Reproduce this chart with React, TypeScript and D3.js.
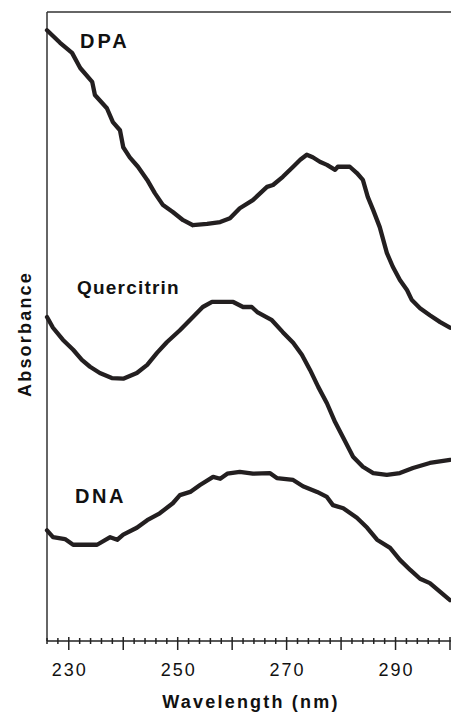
import React from 'react';
import * as d3 from 'd3';

// spectra (wavelength nm, absorbance in arbitrary units, offset per trace)
const dpaWave = [226, 228.4, 230.6, 232.1, 234.3, 234.8, 237, 238.1, 239.4, 240, 241.2, 242.7, 244.4, 245.8, 247.3, 249.1, 251, 252.8, 255.4, 257.8, 259.6, 261.4, 263.8, 266.4, 267.5, 269.3, 271.2, 272.5, 273.7, 274.8, 276.1, 277.4, 278.9, 279.4, 281.6, 282.9, 284, 284.9, 285.9, 287.1, 288.4, 289.5, 290.8, 292.1, 293, 294.5, 296.3, 298.2, 300];
const dpaAbs = [97.1, 95.1, 93.5, 91.1, 88.9, 86.8, 84.7, 82.5, 81.2, 78.5, 76.9, 75.4, 73.3, 71.2, 69.3, 68.2, 66.9, 66.1, 66.3, 66.6, 67.2, 68.8, 70.1, 72.2, 72.5, 73.8, 75.4, 76.5, 77.3, 76.9, 76.2, 75.7, 74.9, 75.4, 75.4, 74.4, 73.3, 70.6, 68.5, 65.8, 61.7, 59.5, 57.4, 55.8, 54.2, 52.9, 51.8, 50.7, 49.8];

const quercitrinWave = [226, 227.1, 228.9, 230.8, 232.4, 233.9, 235.7, 237.9, 240, 242.5, 244.4, 246.2, 248, 250.4, 252.8, 254.6, 256.3, 260.2, 262, 263.6, 264.6, 267.3, 269.3, 271.2, 272.8, 274.3, 275.8, 277.4, 278.9, 280.4, 282.2, 284, 285.9, 288.4, 290.8, 293.2, 296.3, 300];
const quercitrinAbs = [51.5, 49.8, 47.9, 46.3, 44.7, 43.6, 42.6, 41.8, 41.7, 42.6, 43.9, 45.8, 47.5, 49.4, 51.5, 53.1, 53.9, 53.9, 53.1, 53.1, 52.3, 51, 49.1, 47.4, 45.5, 43.1, 40.4, 37.8, 34.8, 32.3, 29.3, 27.7, 26.7, 26.4, 26.7, 27.5, 28.3, 28.8];

const dnaWave = [226, 227.1, 229.3, 230.8, 235.2, 237.6, 238.9, 240, 242.5, 244.4, 246.7, 249.1, 250.4, 252.3, 254.1, 256.5, 257.8, 259.1, 261.4, 263.8, 266.9, 268.2, 271.2, 273, 275.6, 277.4, 278.5, 280.4, 282.9, 284.8, 286.6, 289, 290.8, 292.7, 294.5, 296.3, 298.2, 300];
const dnaAbs = [17.6, 16.5, 16.2, 15.3, 15.3, 16.5, 16.1, 16.9, 18, 19.2, 20.3, 21.9, 23.2, 23.7, 24.8, 26.1, 25.8, 26.6, 26.9, 26.6, 26.7, 25.9, 25.6, 24.6, 23.7, 22.9, 21.6, 21.1, 19.6, 18, 16.1, 14.8, 12.9, 11.3, 9.9, 9.2, 7.8, 6.5];

const tickLabels = [230, 250, 270, 290];

const W = 451;
const H = 712;
const left = 47;
const top = 12;
const bottom = 641;
const ink = '#231f20';
const font = '"Liberation Sans", Arial, Helvetica, sans-serif';

export default function App() {
  const x = d3.scaleLinear().domain([226, 300]).range([left, 450]);
  const y = d3.scaleLinear().domain([0, 100]).range([bottom, top]);

  const line = d3.line<[number, number]>()
    .x(d => x(d[0]))
    .y(d => y(d[1]));

  const series = [
    { name: 'DPA', wave: dpaWave, abs: dpaAbs },
    { name: 'Quercitrin', wave: quercitrinWave, abs: quercitrinAbs },
    { name: 'DNA', wave: dnaWave, abs: dnaAbs },
  ];

  const minor = d3.range(226, 301, 2).filter(v => v % 10 !== 0);
  const major = d3.range(230, 301, 10);

  return (
    <div style={{ position: 'absolute', left: 0, top: 0 }}>
      <svg width={W} height={H} style={{ display: 'block', background: '#fff' }}>
        {/* frame: left axis and top rule */}
        <line x1={left} x2={left} y1={top} y2={bottom} stroke="#333" strokeWidth={1.5} />
        <line x1={left} x2={W} y1={top} y2={top} stroke="#333" strokeWidth={1.5} />
        <line x1={left} x2={W} y1={bottom} y2={bottom} stroke="#222" strokeWidth={1.5} />

        {minor.map(v => (
          <line key={'m' + v} x1={x(v)} x2={x(v)} y1={bottom - 3} y2={bottom + 3} stroke="#222" strokeWidth={1.5} />
        ))}
        {major.map(v => (
          <line key={'M' + v} x1={x(v)} x2={x(v)} y1={bottom - 4} y2={bottom + 9} stroke="#222" strokeWidth={1.5} />
        ))}
        {tickLabels.map(v => (
          <text key={'t' + v} x={x(v) + 1} y={676} textAnchor="middle" fontFamily={font} fontSize={18}
            letterSpacing={2} fill="#111">{v}</text>
        ))}

        <text x={251} y={708} textAnchor="middle" fontFamily={font} fontSize={18} fontWeight="bold"
          letterSpacing={2.2} fill="#111">Wavelength (nm)</text>
        <text transform="translate(31,334) rotate(-90)" textAnchor="middle" fontFamily={font} fontSize={18}
          fontWeight="bold" letterSpacing={2.2} fill="#111">Absorbance</text>

        {series.map(s => (
          <path key={s.name} d={line(s.wave.map((w, i) => [w, s.abs[i]] as [number, number])) || ''}
            fill="none" stroke={ink} strokeWidth={4.3} strokeLinejoin="round" strokeLinecap="round" />
        ))}

        <text x={80} y={48} fontFamily={font} fontSize={20} fontWeight="bold" letterSpacing={3} fill="#111">DPA</text>
        <text x={77} y={294} fontFamily={font} fontSize={19} fontWeight="bold" letterSpacing={1.2} fill="#111">Quercitrin</text>
        <text x={75} y={503} fontFamily={font} fontSize={20} fontWeight="bold" letterSpacing={2.5} fill="#111">DNA</text>
      </svg>
    </div>
  );
}
